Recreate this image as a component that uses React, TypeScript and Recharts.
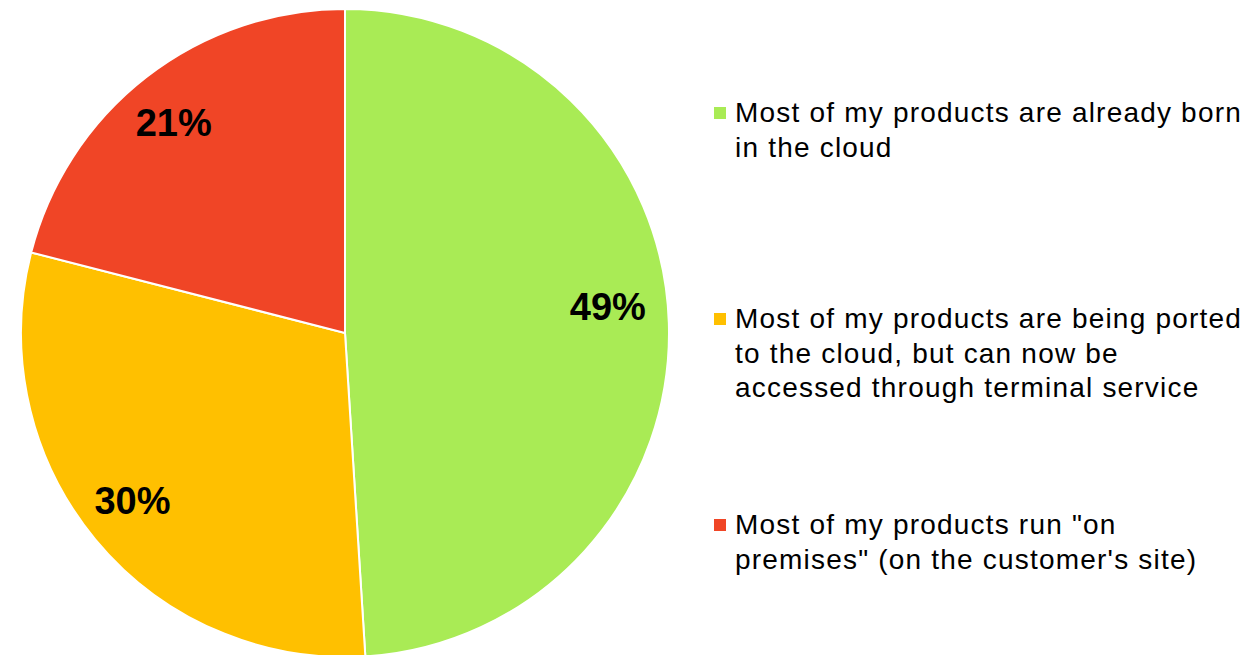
import { PieChart, Pie, Cell, Legend } from "recharts";

const categories = [
  "Most of my products are already born\nin the cloud",
  "Most of my products are being ported\nto the cloud, but can now be\naccessed through terminal service",
  'Most of my products run "on\npremises" (on the customer\'s site)',
];
const shares = [49, 30, 21];
const COLORS = ["#A9EB55", "#FFC000", "#F04526"];

const data = categories.map((name, i) => ({ name, value: shares[i] }));

const RADIAN = Math.PI / 180;
const FONT = '"Liberation Sans", Arial, sans-serif';
// small hand nudge for the labels, excel places them a bit off the mid angle
const labelNudge = [
  [-5, -18],
  [-6, -3],
  [-7, 2],
];

const renderLabel = (props: any) => {
  const { cx, cy, midAngle, index } = props;
  const r = 268;
  const x = cx + r * Math.cos(-midAngle * RADIAN) + labelNudge[index][0];
  const y = cy + r * Math.sin(-midAngle * RADIAN) + labelNudge[index][1];
  return (
    <text
      x={x}
      y={y}
      textAnchor="middle"
      dominantBaseline="central"
      fill="#000"
      fontFamily={FONT}
      fontWeight="bold"
      fontSize={38}
    >
      {`${shares[index]}%`}
    </text>
  );
};

const renderLegend = () => (
  <div style={{ fontFamily: FONT }}>
    {data.map((d, i) => (
      <div key={i} style={{ display: "flex", alignItems: "flex-start", height: 206 }}>
        <span
          style={{
            width: 12,
            height: 12,
            background: COLORS[i],
            marginTop: 11,
            marginRight: 9,
            flexShrink: 0,
          }}
        />
        <span
          style={{
            whiteSpace: "pre-line",
            fontSize: 28,
            lineHeight: "34.5px",
            letterSpacing: 1.2,
            color: "#000",
          }}
        >
          {d.name}
        </span>
      </div>
    ))}
  </div>
);

export default function App() {
  return (
    <div style={{ width: 1252, height: 655, background: "#fff" }}>
      <style>{"body{margin:0}"}</style>
      <PieChart width={1252} height={655} margin={{ top: 0, right: 0, bottom: 0, left: 0 }}>
        <Pie
          data={data}
          dataKey="value"
          nameKey="name"
          cx={345}
          cy={333}
          outerRadius={324}
          startAngle={90}
          endAngle={-270}
          stroke="#fff"
          strokeWidth={2}
          label={renderLabel}
          labelLine={false}
          isAnimationActive={false}
        >
          {data.map((_d, i) => (
            <Cell key={`cell-${i}`} fill={COLORS[i]} />
          ))}
        </Pie>
        <Legend
          content={renderLegend}
          layout="vertical"
          wrapperStyle={{ left: 714, top: 96, width: 538 }}
        />
      </PieChart>
    </div>
  );
}
